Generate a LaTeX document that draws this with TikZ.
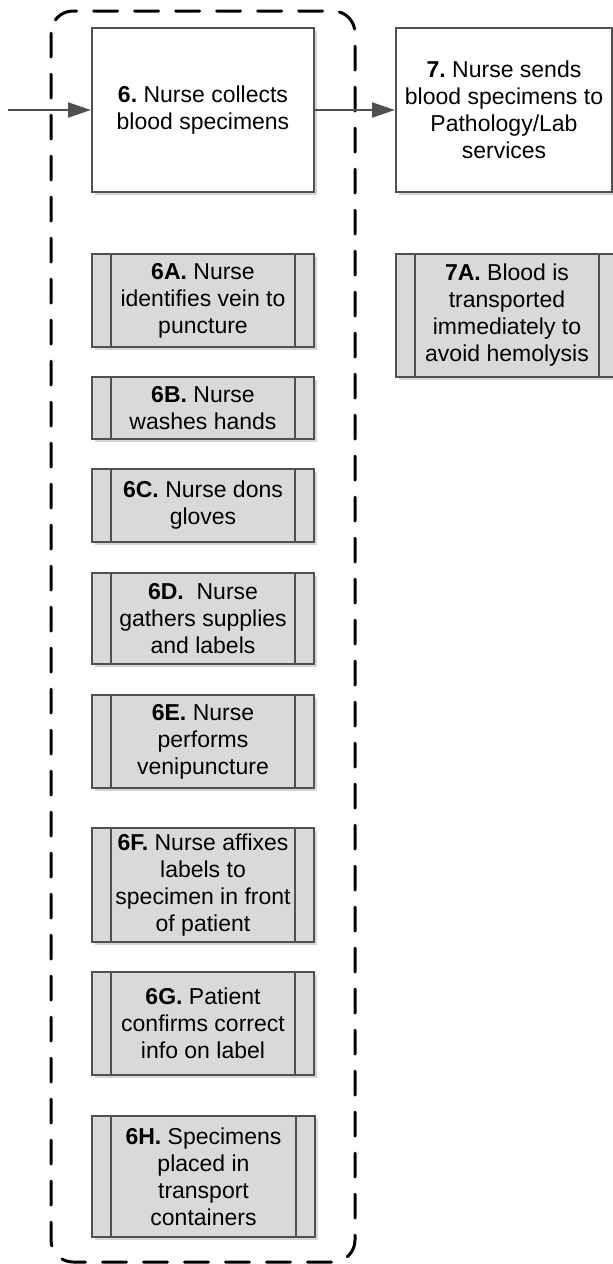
\documentclass[tikz,border=0pt]{standalone}
\usepackage{fontspec}
\setmainfont{Liberation Sans}
\usetikzlibrary{arrows.meta,shadows}
\definecolor{edge}{HTML}{505050}
\definecolor{subfill}{HTML}{D9D9D9}
\frenchspacing
\begin{document}
\begin{tikzpicture}[x=0.5pt,y=-0.5pt,
  every node/.style={font=\fontsize{11.5pt}{13.5pt}\selectfont, align=center, inner sep=0pt},
  stepbox/.style={draw=edge, line width=1pt, fill=white,
    drop shadow={shadow xshift=1.5pt, shadow yshift=-1.5pt, fill=black!16, opacity=1}},
  subbox/.style={stepbox, fill=subfill},
  flow/.style={draw=edge, line width=1pt, -{Triangle[length=11.5pt,width=7.5pt]}},
  bar/.style={draw=edge, line width=1pt},
  frame/.style={draw=black, line width=1.5pt, dash pattern=on 12pt off 8.5pt,
    line cap=round, rounded corners=11pt}
]
\useasboundingbox (0,0) rectangle (613,1264);
\clip (0,0) rectangle (613,1264);

% main process steps
\node[stepbox, minimum width=111pt, minimum height=82pt] (s6) at (203,110)
  {\textbf{6.} Nurse collects\\blood specimens};
\node[stepbox, minimum width=108pt, minimum height=82pt] (s7) at (504,110)
  {\textbf{7.} Nurse sends\\blood specimens to\\Pathology/Lab\\services};

% sub-steps of step 6
\node[subbox, minimum width=111pt, minimum height=46.5pt] (s6a) at (203,300.5)
  {\textbf{6A.} Nurse\\identifies vein to\\puncture};
\node[subbox, minimum width=111pt, minimum height=31pt] (s6b) at (203,408)
  {\textbf{6B.} Nurse\\washes hands};
\node[subbox, minimum width=111pt, minimum height=36.5pt] (s6c) at (203,505.5)
  {\textbf{6C.} Nurse dons\\gloves};
\node[subbox, minimum width=111pt, minimum height=45.5pt] (s6d) at (203,618.5)
  {\textbf{6D.}\ \ Nurse\\gathers supplies\\and labels};
\node[subbox, minimum width=111pt, minimum height=46.5pt] (s6e) at (203,741.5)
  {\textbf{6E.} Nurse\\performs\\venipuncture};
\node[subbox, minimum width=111pt, minimum height=57pt] (s6f) at (203,885)
  {\textbf{6F.} Nurse affixes\\labels to\\specimen in front\\of patient};
\node[subbox, minimum width=111pt, minimum height=51.5pt] (s6g) at (203,1023.5)
  {\textbf{6G.} Patient\\confirms correct\\info on label};
\node[subbox, minimum width=111.5pt, minimum height=60.5pt] (s6h) at (203.5,1176.5)
  {\textbf{6H.} Specimens\\placed in\\transport\\containers};

% sub-step of step 7
\node[subbox, minimum width=111pt, minimum height=61.5pt] (s7a) at (507,315.5)
  {\textbf{7A.} Blood is\\transported\\immediately to\\avoid hemolysis};

% side bars of the predefined-process boxes
\foreach \n in {s6a,s6b,s6c,s6d,s6e,s6f,s6g,s6h,s7a}{
  \draw[bar] ([xshift=10pt]\n.north west) -- ([xshift=10pt]\n.south west);
  \draw[bar] ([xshift=-10pt]\n.north east) -- ([xshift=-10pt]\n.south east);
}

% dashed group around step 6
\draw[frame] (51,11) rectangle (355,1262);

% flow arrows
\coordinate (in) at (8,110);
\draw[flow] (in) -- (s6.west);
\draw[flow] (s6.east) -- (s7.west);
\end{tikzpicture}
\end{document}
